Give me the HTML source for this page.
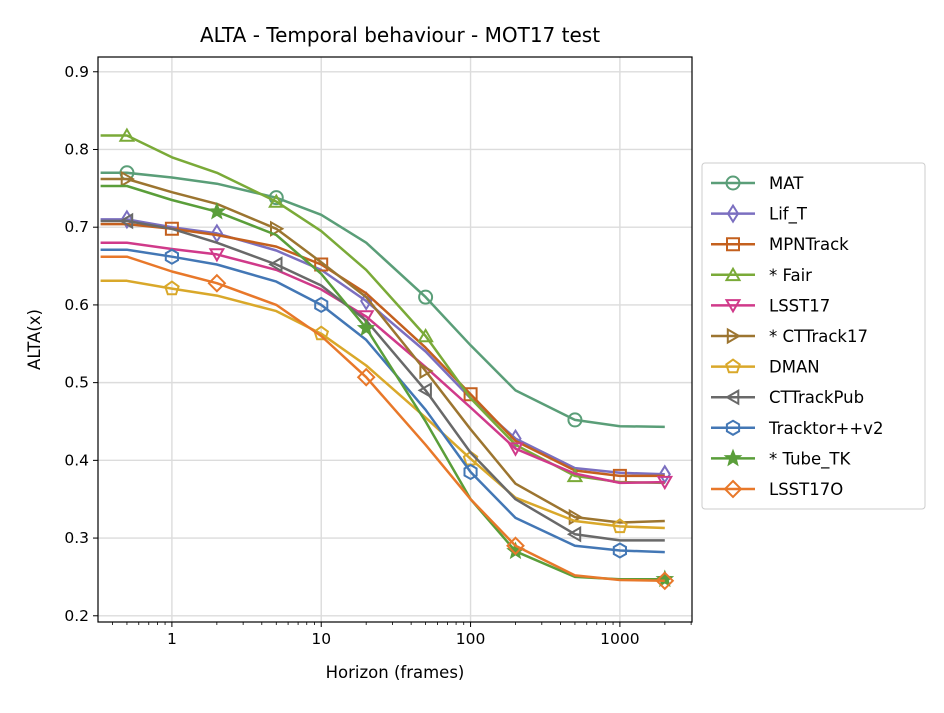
<!DOCTYPE html>
<html><head><meta charset="utf-8"><style>
body{margin:0;background:#fff;}
svg text{font-family:"DejaVu Sans","Liberation Sans",sans-serif;fill:#000;}
</style></head><body>
<svg id="chart" width="944" height="708" xmlns="http://www.w3.org/2000/svg">
<rect width="944" height="708" fill="#fff"/>
<text x="400" y="42" font-size="20" text-anchor="middle">ALTA - Temporal behaviour - MOT17 test</text>
<g id="grid"></g><g id="series"></g><g id="axes"></g><g id="legend"></g>
</svg>
<script>
const horizons=[0.333,0.5,1,2,5,10,20,50,100,200,500,1000,2000];
const seriesNames=["MAT","Lif_T","MPNTrack","* Fair","LSST17","* CTTrack17","DMAN","CTTrackPub","Tracktor++v2","* Tube_TK","LSST17O"];
const valMAT=[0.77,0.77,0.764,0.756,0.738,0.716,0.68,0.61,0.548,0.49,0.452,0.444,0.443];
const valLifT=[0.71,0.71,0.7,0.692,0.67,0.645,0.605,0.54,0.48,0.428,0.39,0.384,0.382];
const valMPN=[0.704,0.704,0.698,0.69,0.675,0.652,0.615,0.545,0.485,0.425,0.387,0.38,0.38];
const valFair=[0.818,0.818,0.79,0.77,0.733,0.695,0.645,0.56,0.48,0.42,0.38,0.372,0.371];
const valLSST=[0.68,0.68,0.672,0.665,0.645,0.62,0.585,0.52,0.468,0.415,0.383,0.371,0.372];
const valCTT17=[0.762,0.762,0.745,0.73,0.698,0.655,0.61,0.515,0.44,0.37,0.327,0.32,0.322];
const valDMAN=[0.631,0.631,0.621,0.612,0.592,0.563,0.522,0.455,0.402,0.352,0.322,0.315,0.313];
const valCTTPub=[0.708,0.708,0.698,0.68,0.652,0.625,0.58,0.49,0.41,0.35,0.305,0.297,0.297];
const valTracktor=[0.671,0.671,0.662,0.652,0.63,0.6,0.555,0.465,0.385,0.326,0.29,0.284,0.282];
const valTube=[0.753,0.753,0.735,0.72,0.69,0.64,0.57,0.45,0.35,0.283,0.25,0.247,0.247];
const valLSSTO=[0.662,0.662,0.643,0.628,0.6,0.56,0.507,0.42,0.35,0.29,0.252,0.246,0.245];
const xTicks=[1,10,100,1000];
const yTicks=[0.2,0.3,0.4,0.5,0.6,0.7,0.8,0.9];

const NS="http://www.w3.org/2000/svg";
const L=98,R=692,T=57,B=622;
const xmin=Math.log10(0.32),xmax=Math.log10(3040),ymin=0.192,ymax=0.919;
const xs=v=>L+(Math.log10(v)-xmin)/(xmax-xmin)*(R-L);
const ys=v=>B-(v-ymin)/(ymax-ymin)*(B-T);
function mk(tag,attrs,parent){const e=document.createElementNS(NS,tag);for(const k in attrs)e.setAttribute(k,attrs[k]);parent.appendChild(e);return e;}
const grid=document.getElementById('grid'),axes=document.getElementById('axes'),sg=document.getElementById('series'),lg=document.getElementById('legend');
xTicks.forEach(t=>{const x=xs(t);
 const g=mk('line',{x1:x,x2:x,y1:T,y2:B,stroke:'#dcdcdc','stroke-width':1.4},grid);
 
 mk('line',{x1:x,x2:x,y1:B,y2:B+5,stroke:'#000','stroke-width':1},axes);
 const tx=mk('text',{x:x,y:B+22,'font-size':15.5,'text-anchor':'middle'},axes);tx.textContent=t;
 
});
for(let d=-1;d<4;d++)for(let m=2;m<10;m++){const v=m*Math.pow(10,d);if(v<0.32||v>3040)continue;mk('line',{x1:xs(v),x2:xs(v),y1:B,y2:B+3,stroke:'#000','stroke-width':0.8},axes);}
yTicks.forEach(t=>{const y=ys(t);
 const g=mk('line',{x1:L,x2:R,y1:y,y2:y,stroke:'#dcdcdc','stroke-width':1.4},grid);
 
 mk('line',{x1:L-5,x2:L,y1:y,y2:y,stroke:'#000','stroke-width':1},axes);
 const tx=mk('text',{x:L-9,y:y+5,'font-size':15.5,'text-anchor':'end'},axes);tx.textContent=t.toFixed(1);
 
});
const fr=mk('rect',{x:L,y:T,width:R-L,height:B-T,fill:'none',stroke:'#000','stroke-width':1.2},axes);

const xl=mk('text',{x:(L+R)/2,y:678,'font-size':16.5,'text-anchor':'middle'},axes);xl.textContent='Horizon (frames)';

const yl=mk('text',{x:40,y:(T+B)/2,'font-size':16.5,'text-anchor':'middle',transform:`rotate(-90 40 ${(T+B)/2})`},axes);yl.textContent='ALTA(x)';


const vals=[valMAT,valLifT,valMPN,valFair,valLSST,valCTT17,valDMAN,valCTTPub,valTracktor,valTube,valLSSTO];
const colors=['#5a9e78','#7b6fc0','#c4601e','#7aaa38','#d03a8a','#9c7530','#d9a82a','#696969','#4377b5','#5a9e3a','#e8782a'];
const markers=['circle','thin_diamond','square','tri_up','tri_down','tri_right','pentagon','tri_left','hexagon','star','diamond'];
const markIdx=[[1,4,7,10],[1,3,6,9,12],[2,5,8,11],[1,4,7,10],[3,6,9,12],[1,4,7,10],[2,5,8,11],[1,4,7,10],[2,5,8,11],[3,6,9,12],[3,6,9,12]];
function poly(n,r,rot){const p=[];for(let i=0;i<n;i++){const a=rot+i*2*Math.PI/n;p.push([r*Math.cos(a),r*Math.sin(a)]);}return p;}
function marker(type,cx,cy,c,parent){
 const st={fill:'none',stroke:c,'stroke-width':2};let pts=null;
 if(type==='circle'){mk('circle',Object.assign({cx:cx,cy:cy,r:6.5},st),parent);return;}
 if(type==='square')pts=[[-6,-6],[6,-6],[6,6],[-6,6]];
 if(type==='tri_up')pts=poly(3,7.5,-Math.PI/2).map(p=>[p[0],p[1]+1.5]);
 if(type==='tri_down')pts=poly(3,7.5,Math.PI/2).map(p=>[p[0],p[1]-1.5]);
 if(type==='tri_right')pts=poly(3,7.5,0).map(p=>[p[0]-1.5,p[1]]);
 if(type==='tri_left')pts=poly(3,7.5,Math.PI).map(p=>[p[0]+1.5,p[1]]);
 if(type==='pentagon')pts=poly(5,7,-Math.PI/2);
 if(type==='hexagon')pts=poly(6,7,-Math.PI/2);
 if(type==='diamond')pts=[[0,-8],[8,0],[0,8],[-8,0]];
 if(type==='thin_diamond')pts=[[0,-8],[5,0],[0,8],[-5,0]];
 if(type==='star'){pts=[];for(let i=0;i<10;i++){const r=i%2?3:7,a=-Math.PI/2+i*Math.PI/5;pts.push([r*Math.cos(a),r*Math.sin(a)]);}st.fill=c;}
 mk('polygon',Object.assign({points:pts.map(p=>(cx+p[0]).toFixed(1)+','+(cy+p[1]).toFixed(1)).join(' ')},st),parent);
}
vals.forEach((v,si)=>{
 const g=mk('g',{},sg);
 
 
 mk('polyline',{points:v.map((y,i)=>xs(horizons[i]).toFixed(1)+','+ys(y).toFixed(1)).join(' '),fill:'none',stroke:colors[si],'stroke-width':2.5,'stroke-linejoin':'round'},g);
 markIdx[si].forEach(i=>marker(markers[si],xs(horizons[i]),ys(v[i]),colors[si],g));
});
const lb=mk('rect',{x:702,y:163,width:223,height:346,rx:3,fill:'#fff',stroke:'#cccccc','stroke-width':1},lg);

seriesNames.forEach((n,si)=>{
 const y=183+si*30.6;
 const g=mk('g',{},lg);
 
 
 mk('line',{x1:711,x2:755,y1:y,y2:y,stroke:colors[si],'stroke-width':2.5},g);
 marker(markers[si],733,y,colors[si],g);
 const t=mk('text',{x:769,y:y+6,'font-size':16.5},g);t.textContent=n;
});
</script>
</body></html>
